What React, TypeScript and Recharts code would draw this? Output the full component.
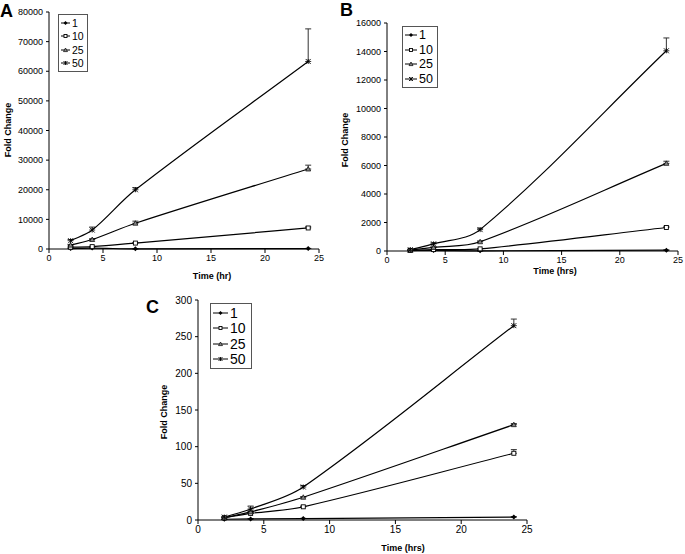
import React from 'react'
import { LineChart, Line, XAxis, YAxis, ErrorBar, Legend } from 'recharts'

const TIME_HRS = [2, 4, 8, 24]
const DOSES = ['1', '10', '25', '50']
const SHAPES = ['diamond', 'square', 'triangle', 'star']
const X_TICKS = [0, 5, 10, 15, 20, 25]

// panel A
const A_TICKS = [0, 10000, 20000, 30000, 40000, 50000, 60000, 70000, 80000]
const A_1 = [150, 300, 50, 150]
const A_10 = [600, 800, 2000, 7100]
const A_25 = [1300, 3200, 8700, 27000]
const A_50 = [2800, 6400, 20000, 63300]
const A_ERR_1 = [30, 40, 20, 60]
const A_ERR_10 = [100, 150, 200, 400]
const A_ERR_25 = [200, 300, 700, 1300]
const A_ERR_50 = [400, 1000, 700, 11000]

// panel B
const B_TICKS = [0, 2000, 4000, 6000, 8000, 10000, 12000, 14000, 16000]
const B_1 = [30, 40, 10, 60]
const B_10 = [40, 100, 150, 1650]
const B_25 = [60, 250, 650, 6150]
const B_50 = [90, 500, 1500, 14050]
const B_ERR_1 = [5, 5, 5, 10]
const B_ERR_10 = [10, 20, 30, 80]
const B_ERR_25 = [20, 40, 60, 150]
const B_ERR_50 = [30, 80, 100, 900]

// panel C
const C_TICKS = [0, 50, 100, 150, 200, 250, 300]
const C_1 = [1, 1.5, 2, 4]
const C_10 = [3, 9, 18, 91]
const C_25 = [3, 11, 31, 130]
const C_50 = [4, 15, 45, 265]
const C_ERR_1 = [0.2, 0.2, 0.3, 0.5]
const C_ERR_10 = [0.5, 1, 1, 5]
const C_ERR_25 = [0.5, 1, 1, 1.5]
const C_ERR_50 = [0.5, 4, 2, 9]

const FONT = '"Liberation Sans", Arial, sans-serif'

function makeRows(vals: number[][], errs: number[][]) {
  return TIME_HRS.map((t, i) => {
    const row: any = { t }
    DOSES.forEach((d, k) => {
      row['s' + d] = vals[k][i]
      row['e' + d] = [0, errs[k][i]]
    })
    return row
  })
}

// smoothed line like the spreadsheet one, tangents scaled by chord length so it doesn't dip
function smoothCurve(context: any) {
  let xs: number[] = []
  let ys: number[] = []
  return {
    areaStart() {},
    areaEnd() {},
    lineStart() {
      xs = []
      ys = []
    },
    point(x: number, y: number) {
      xs.push(+x)
      ys.push(+y)
    },
    lineEnd() {
      const n = xs.length
      if (!n) return
      context.moveTo(xs[0], ys[0])
      const dist = (a: number, b: number) => Math.hypot(xs[b] - xs[a], ys[b] - ys[a]) || 1
      const tan = (i: number): [number, number] => {
        const p = Math.max(i - 1, 0)
        const q = Math.min(i + 1, n - 1)
        let len = 0
        if (p < i) len += dist(p, i)
        if (q > i) len += dist(i, q)
        return [(xs[q] - xs[p]) / len, (ys[q] - ys[p]) / len]
      }
      for (let i = 0; i < n - 1; i++) {
        const d = dist(i, i + 1) / 3
        const t0 = tan(i)
        const t1 = tan(i + 1)
        context.bezierCurveTo(
          xs[i] + t0[0] * d,
          ys[i] + t0[1] * d,
          xs[i + 1] - t1[0] * d,
          ys[i + 1] - t1[1] * d,
          xs[i + 1],
          ys[i + 1]
        )
      }
    },
  }
}

function Marker({ cx, cy, shape, s = 5 }: { cx?: number; cy?: number; shape: string; s?: number }) {
  if (cx == null || cy == null || isNaN(cx) || isNaN(cy)) return null
  const h = s / 2
  if (shape === 'diamond')
    return <polygon points={`${cx},${cy - h} ${cx + h},${cy} ${cx},${cy + h} ${cx - h},${cy}`} fill="#000" />
  if (shape === 'square')
    return <rect x={cx - h + 0.5} y={cy - h + 0.5} width={s - 1} height={s - 1} fill="#fff" stroke="#000" strokeWidth={0.9} />
  if (shape === 'triangle')
    return (
      <polygon
        points={`${cx},${cy - h} ${cx + h},${cy + h * 0.8} ${cx - h},${cy + h * 0.8}`}
        fill="#888"
        stroke="#000"
        strokeWidth={0.7}
      />
    )
  return (
    <g stroke="#000" strokeWidth={0.9}>
      <line x1={cx - h} y1={cy - h} x2={cx + h} y2={cy + h} />
      <line x1={cx - h} y1={cy + h} x2={cx + h} y2={cy - h} />
      <line x1={cx} y1={cy - h} x2={cx} y2={cy + h} />
    </g>
  )
}

function LegendBox({ fontSize, rowH, lineW, padR }: { fontSize: number; rowH: number; lineW: number; padR: number }) {
  return (
    <div
      style={{
        border: '1px solid #555',
        background: '#fff',
        padding: `1px ${padR}px 1px 2px`,
        fontFamily: FONT,
        fontSize,
        color: '#000',
      }}
    >
      {DOSES.map((d, k) => (
        <div key={d} style={{ display: 'flex', alignItems: 'center', height: rowH }}>
          <svg width={lineW} height={8} style={{ display: 'block' }}>
            <line x1={0} y1={4} x2={lineW} y2={4} stroke="#000" strokeWidth={1} />
            <Marker cx={lineW / 2} cy={4} shape={SHAPES[k]} s={4} />
          </svg>
          <span style={{ marginLeft: 2, lineHeight: 1 }}>{d}</span>
        </div>
      ))}
    </div>
  )
}

interface PanelProps {
  letter: string
  left: number
  top: number
  width: number
  height: number
  margin: { top: number; right: number; bottom: number; left: number }
  xAxisHeight: number
  yTicks: number[]
  rows: any[]
  xTitle: string
  xTitlePos: [number, number]
  yTitlePos: [number, number]
  tickFont: number
  legendFont: number
  legendRow: number
  legendLine: number
  legendPad: number
  legendPos: [number, number]
  letterPos: [number, number]
}

function Panel(p: PanelProps) {
  const axisStyle = {
    stroke: '#000',
    tick: { fill: '#000', fontSize: p.tickFont, fontFamily: FONT },
    tickLine: { stroke: '#000' },
    axisLine: { stroke: '#000' },
  }
  return (
    <>
      <div
        style={{
          position: 'absolute',
          left: p.letterPos[0],
          top: p.letterPos[1],
          fontFamily: FONT,
          fontWeight: 'bold',
          fontSize: 18,
          lineHeight: 1,
        }}
      >
        {p.letter}
      </div>
      <div style={{ position: 'absolute', left: p.left, top: p.top }}>
        <LineChart width={p.width} height={p.height} data={p.rows} margin={p.margin}>
          <XAxis
            dataKey="t"
            type="number"
            domain={[0, 25]}
            ticks={X_TICKS}
            height={p.xAxisHeight}
            tickSize={4}
            tickMargin={2}
            {...axisStyle}
            label={{
              content: () => (
                <text
                  x={p.xTitlePos[0]}
                  y={p.xTitlePos[1]}
                  textAnchor="middle"
                  dominantBaseline="central"
                  fontFamily={FONT}
                  fontSize={9}
                  fontWeight="bold"
                  fill="#000"
                >
                  {p.xTitle}
                </text>
              ),
            }}
          />
          <YAxis
            type="number"
            domain={[p.yTicks[0], p.yTicks[p.yTicks.length - 1]]}
            ticks={p.yTicks}
            width={40}
            tickSize={3}
            tickMargin={3}
            {...axisStyle}
            label={{
              content: () => (
                <text
                  x={p.yTitlePos[0]}
                  y={p.yTitlePos[1]}
                  transform={`rotate(-90 ${p.yTitlePos[0]} ${p.yTitlePos[1]})`}
                  textAnchor="middle"
                  dominantBaseline="central"
                  fontFamily={FONT}
                  fontSize={9}
                  fontWeight="bold"
                  fill="#000"
                >
                  Fold Change
                </text>
              ),
            }}
          />
          <Legend
            layout="vertical"
            align="center"
            verticalAlign="middle"
            wrapperStyle={{ left: p.legendPos[0], top: p.legendPos[1], width: 'auto', height: 'auto' }}
            content={() => (
              <LegendBox fontSize={p.legendFont} rowH={p.legendRow} lineW={p.legendLine} padR={p.legendPad} />
            )}
          />
          {DOSES.map((d, k) => (
            <Line
              key={d}
              dataKey={'s' + d}
              name={d}
              type={smoothCurve as any}
              stroke="#000"
              strokeWidth={1.2}
              isAnimationActive={false}
              dot={(dp: any) => <Marker key={`${d}-${dp.index}`} cx={dp.cx} cy={dp.cy} shape={SHAPES[k]} />}
              activeDot={false}
            >
              <ErrorBar dataKey={'e' + d} direction="y" width={3} stroke="#333" strokeWidth={1} isAnimationActive={false} />
            </Line>
          ))}
        </LineChart>
      </div>
    </>
  )
}

export default function App() {
  const rowsA = makeRows([A_1, A_10, A_25, A_50], [A_ERR_1, A_ERR_10, A_ERR_25, A_ERR_50])
  const rowsB = makeRows([B_1, B_10, B_25, B_50], [B_ERR_1, B_ERR_10, B_ERR_25, B_ERR_50])
  const rowsC = makeRows([C_1, C_10, C_25, C_50], [C_ERR_1, C_ERR_10, C_ERR_25, C_ERR_50])
  return (
    <div style={{ position: 'absolute', left: 0, top: 0, width: 685, height: 554, background: '#fff' }}>
      <Panel
        letter="A"
        left={0}
        top={0}
        width={340}
        height={290}
        margin={{ top: 12, right: 21, bottom: 11, left: 9 }}
        xAxisHeight={30}
        yTicks={A_TICKS}
        rows={rowsA}
        xTitle="Time (hr)"
        xTitlePos={[212, 276]}
        yTitlePos={[8, 130]}
        tickFont={9}
        legendFont={10.5}
        legendRow={13.5}
        legendLine={9}
        legendPad={3}
        legendPos={[58, 14]}
        letterPos={[0, 2]}
      />
      <Panel
        letter="B"
        left={340}
        top={0}
        width={345}
        height={290}
        margin={{ top: 23, right: 7, bottom: 9, left: 7 }}
        xAxisHeight={30}
        yTicks={B_TICKS}
        rows={rowsB}
        xTitle="Time (hrs)"
        xTitlePos={[215, 271]}
        yTitlePos={[5, 140]}
        tickFont={9}
        legendFont={12.5}
        legendRow={14.5}
        legendLine={12}
        legendPad={4}
        legendPos={[62, 26]}
        letterPos={[340, 1]}
      />
      <Panel
        letter="C"
        left={140}
        top={285}
        width={400}
        height={269}
        margin={{ top: 15, right: 13, bottom: 9, left: 18 }}
        xAxisHeight={25}
        yTicks={C_TICKS}
        rows={rowsC}
        xTitle="Time (hrs)"
        xTitlePos={[263, 263]}
        yTitlePos={[24, 127]}
        tickFont={10}
        legendFont={14}
        legendRow={15.5}
        legendLine={15}
        legendPad={5}
        legendPos={[70, 18]}
        letterPos={[146, 298]}
      />
    </div>
  )
}
